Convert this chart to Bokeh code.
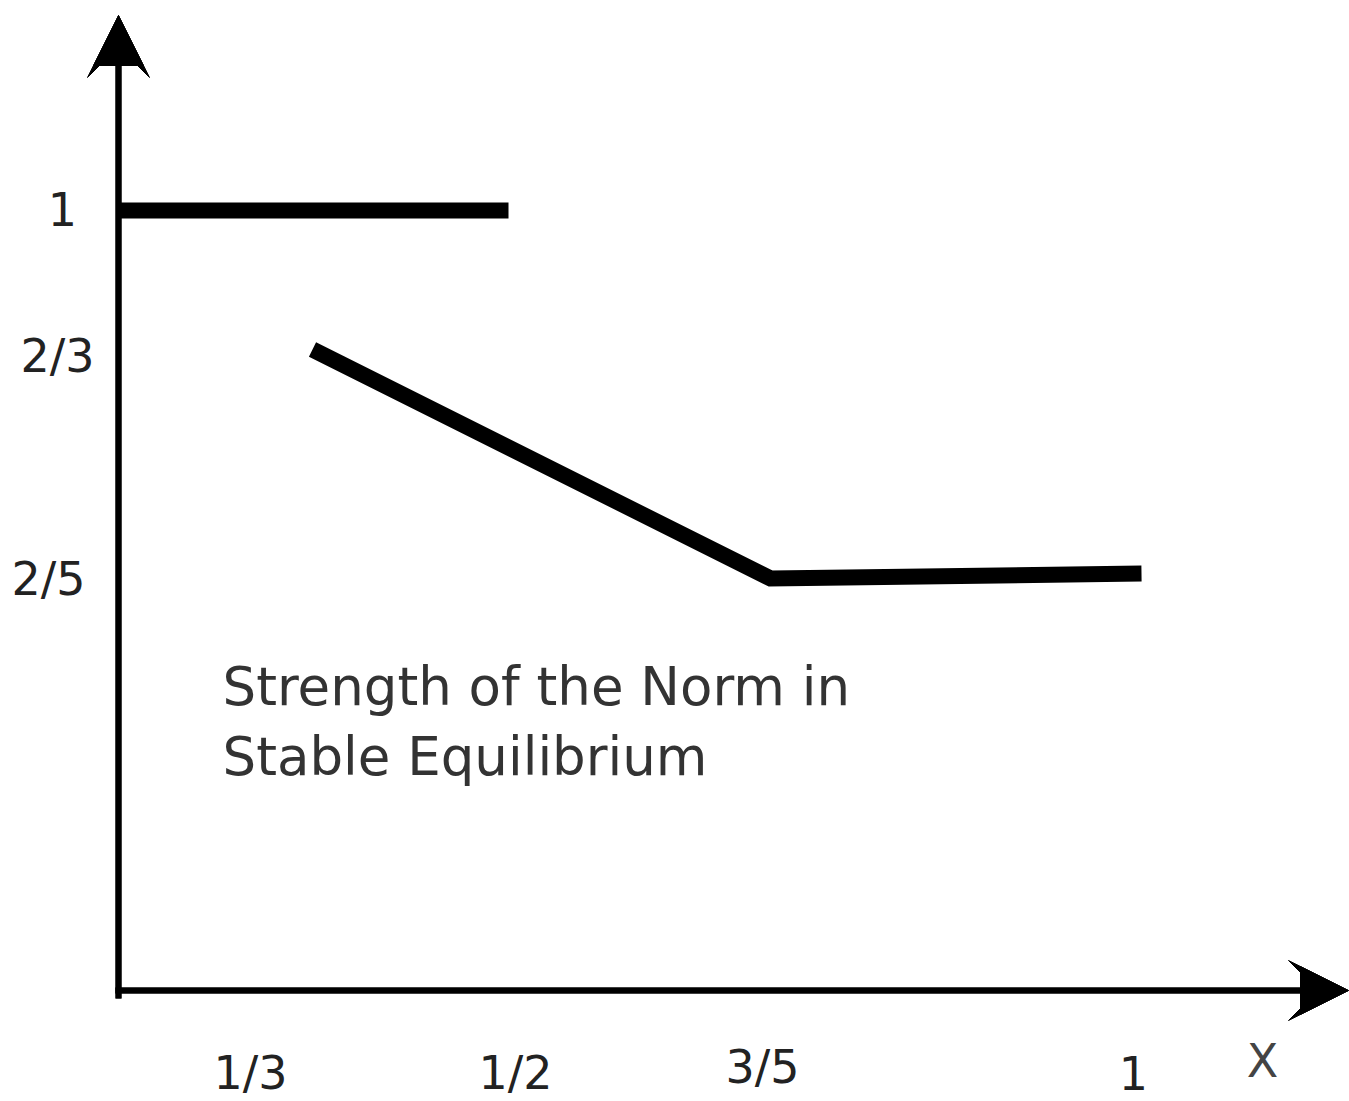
from bokeh.plotting import figure
from bokeh.models import Range1d, Arrow, VeeHead, NormalHead
from bokeh.core.properties import value
from bokeh.embed import file_html
from bokeh.resources import INLINE

# Schematic coordinates (origin at the axes' crossing)
upper_x = [0, 388]
upper_y = [780, 780]

lower_x = [192, 650, 1021]
lower_y = [641, 412, 417]

x_tick_pos = [130, 395, 642, 1013]
x_tick_lab = ["1/3", "1/2", "3/5", "1"]
x_tick_y = [-82, -82, -76, -82]

y_tick_pos = [782, 635, 412]
y_tick_lab = ["1", "2/3", "2/5"]
y_tick_x = [-58, -63, -72]

x_name = "X"
caption = ["Strength of the Norm in", "Stable Equilibrium"]
caption_y = [304, 234]

W, H = 1349, 1101
p = figure(width=W, height=H,
           x_range=Range1d(-120, W - 120), y_range=Range1d(990 - H, 990),
           output_backend="svg", toolbar_location=None, min_border=0)
p.axis.visible = False
p.grid.visible = False
p.outline_line_color = None
p.background_fill_color = "white"
p.border_fill_color = "white"

# axes with arrows (notched dart heads)
for head in (VeeHead(size=62, fill_color="black", line_color="black", line_width=1),
             NormalHead(size=50, fill_color="black", line_color="black", line_width=1)):
    p.add_layout(Arrow(x_start=-2, y_start=-8, x_end=-2, y_end=975,
                       line_width=6, line_color="black", end=head))
for head in (VeeHead(size=60, fill_color="black", line_color="black", line_width=1),
             NormalHead(size=48, fill_color="black", line_color="black", line_width=1)):
    p.add_layout(Arrow(x_start=-5, y_start=0, x_end=1228, y_end=0,
                       line_width=6, line_color="black", end=head))

p.line(upper_x, upper_y, line_width=16, line_color="black", line_cap="butt")
p.line(lower_x, lower_y, line_width=16, line_color="black", line_cap="butt", line_join="miter")

p.text(x=x_tick_pos, y=x_tick_y, text=x_tick_lab, text_align="center", text_baseline="middle",
       text_font=value("DejaVu Sans"), text_font_size="46px", text_color="#222222")
p.text(x=y_tick_x, y=y_tick_pos, text=y_tick_lab, text_align="center", text_baseline="middle",
       text_font=value("DejaVu Sans"), text_font_size="46px", text_color="#222222")
p.text(x=[1142], y=[-70], text=[x_name], text_align="center", text_baseline="middle",
       text_font=value("DejaVu Sans"), text_font_size="46px", text_color="#444444")

p.text(x=[102, 102], y=caption_y, text=caption, text_align="left", text_baseline="alphabetic",
       text_font=value("DejaVu Sans"), text_font_size="53px", text_color="#333333")

open("out.html", "w").write(file_html(p, INLINE))
